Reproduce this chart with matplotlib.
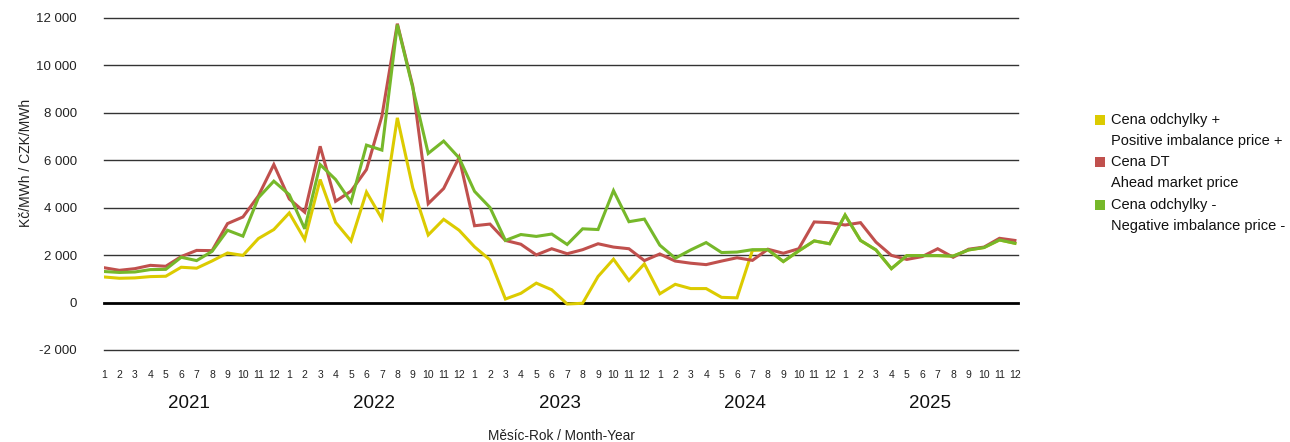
import matplotlib
matplotlib.use("Agg")
import matplotlib.pyplot as plt
from matplotlib.patches import Rectangle
from matplotlib.ticker import FuncFormatter
import matplotlib.transforms as mtransforms

plt.rcParams['font.family'] = ['Liberation Sans', 'DejaVu Sans']

years = [2021, 2022, 2023, 2024, 2025]
months = list(range(1, 13))

positive_price = [
    1080, 1025, 1040, 1095, 1110, 1490, 1450, 1755, 2090, 1990, 2700, 3080,
    3780, 2660, 5190, 3380, 2600, 4660, 3540, 7790, 4840, 2850, 3510, 3050,
    2350, 1800, 150, 390, 820, 540, -60, -30, 1100, 1830, 930, 1630,
    370, 770, 590, 590, 220, 200, 2200, 2230, 1730, 2180, 2600, 2480,
    3690, 2620, 2220, 1430, 1980, 1980, 1980, 1960, 2220, 2320, 2640, 2500,
]
ahead_price = [
    1470, 1360, 1430, 1570, 1530, 1940, 2200, 2190, 3330, 3610, 4500, 5820,
    4370, 3810, 6590, 4270, 4700, 5610, 7860, 11760, 9120, 4170, 4810, 6120,
    3240, 3310, 2620, 2460, 2010, 2270, 2060, 2230, 2480, 2340, 2270, 1770,
    2050, 1750, 1660, 1600, 1750, 1890, 1780, 2250, 2080, 2270, 3400, 3370,
    3270, 3370, 2550, 1990, 1820, 1940, 2270, 1910, 2250, 2340, 2710, 2620,
]
negative_price = [
    1310, 1270, 1290, 1390, 1400, 1910, 1770, 2160, 3050, 2800, 4420, 5120,
    4550, 3110, 5820, 5190, 4240, 6640, 6430, 11720, 9050, 6290, 6810, 6100,
    4690, 4010, 2620, 2870, 2790, 2890, 2450, 3110, 3080, 4720, 3410, 3520,
    2420, 1870, 2220, 2530, 2110, 2130, 2230, 2230, 1730, 2180, 2600, 2480,
    3690, 2620, 2220, 1430, 1980, 1980, 1980, 1960, 2220, 2320, 2640, 2500,
]

legend_lines = [
    "Cena odchylky +", "Positive imbalance price +",
    "Cena DT", "Ahead market price",
    "Cena odchylky -", "Negative imbalance price -",
]
colors = ['#DCCB00', '#C0504D', '#76B82A']

W, H = 1290, 442
fig = plt.figure(figsize=(W / 100, H / 100), dpi=100)
ax = fig.add_axes([104 / W, 1 - 350 / H, (1018 - 104) / W, (350 - 18) / H])

n = len(years) * len(months)
x = list(range(n))
ax.plot(x, positive_price, color=colors[0], lw=2.2, solid_joinstyle='miter', zorder=3)
ax.plot(x, ahead_price, color=colors[1], lw=2.2, solid_joinstyle='miter', zorder=4)
ax.plot(x, negative_price, color=colors[2], lw=2.2, solid_joinstyle='miter', zorder=5)

ax.set_xlim(0, 59.2)
ax.set_ylim(-2000, 12000)
yt = list(range(-2000, 12001, 2000))
ax.set_yticks(yt)
ax.yaxis.set_major_formatter(FuncFormatter(lambda v, p: f"{int(v):,}".replace(",", " ")))
for v in yt:
    if v == 0:
        ax.axhline(v, color='black', lw=2.0, zorder=2, clip_on=False)
    else:
        ax.axhline(v, color='#333333', lw=1.0, zorder=1, clip_on=False)
ax.tick_params(axis='y', length=0, pad=19.5, labelsize=9.5, colors='#222222')
ax.set_xticks(x)
ax.set_xticklabels([str(m) for y in years for m in months])
ax.tick_params(axis='x', length=0, pad=14.5, labelsize=7.5, colors='#222222')
for s in ax.spines.values():
    s.set_visible(False)

trans = mtransforms.blended_transform_factory(ax.transData, fig.transFigure)
for k, yr in enumerate(years):
    ax.text(12 * k + 5.5, 1 - 404 / H, str(yr), transform=trans, ha='center', va='center',
            fontsize=13.5, color='#111111')

fig.text(561 / W, 1 - 436 / H, "Měsíc-Rok / Month-Year", ha='center', va='center',
         fontsize=9.8, color='#222222')
fig.text(26 / W, 1 - 163 / H, "Kč/MWh / CZK/MWh", ha='center', va='center',
         rotation=90, fontsize=10, color='#222222')

# legend
row_y = [120, 141.5, 162, 183, 204.5, 226]
for i, (lbl, yy) in enumerate(zip(legend_lines, row_y)):
    fig.text(1111 / W, 1 - yy / H, lbl, ha='left', va='center', fontsize=10.5, color='#111111')
    if i % 2 == 0:
        c = colors[i // 2]
        fig.patches.append(Rectangle((1095 / W, 1 - (yy + 5) / H), 10 / W, 10 / H,
                                     transform=fig.transFigure, facecolor=c, edgecolor='none'))

fig.savefig("out.png", dpi=100)
